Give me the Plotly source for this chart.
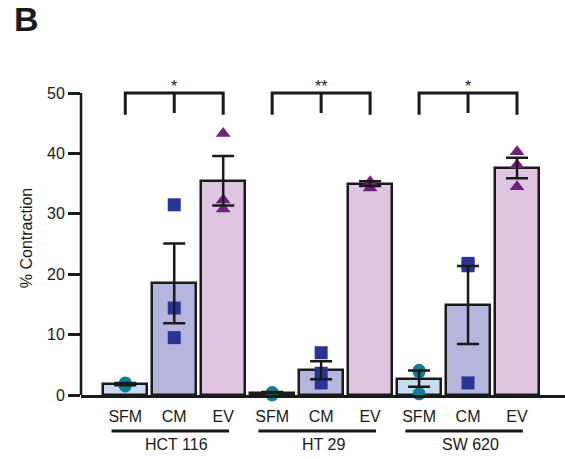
import plotly.graph_objects as go

# ---- data ----
groups = ["HCT 116", "HT 29", "SW 620"]
conditions = ["SFM", "CM", "EV"]

mean_hct116 = [1.8, 18.5, 35.5]
mean_ht29 = [0.4, 4.1, 35.0]
mean_sw620 = [2.7, 14.9, 37.6]

sem_hct116 = [0.2, 6.6, 4.1]
sem_ht29 = [0.1, 1.5, 0.4]
sem_sw620 = [1.35, 6.45, 1.7]

pts_sfm = [[1.5, 1.8, 2.0], [0.0, 0.2, 0.4], [4.1, 3.8, 0.2]]
pts_cm = [[31.5, 14.4, 9.5], [7.0, 3.6, 2.0], [21.4, 21.8, 2.0]]
pts_ev = [[43.3, 32.3, 30.8], [35.3, 35.0, 34.3], [40.3, 38.1, 34.5]]

sig_labels = ["*", "**", "*"]

bar_fill = {"SFM": "#c8dcf1", "CM": "#b4b6dd", "EV": "#dfc5e2"}
pt_color = {"SFM": "#0d8096", "CM": "#2a3593", "EV": "#741f80"}
pt_symbol = {"SFM": "circle", "CM": "square", "EV": "triangle-up"}

FONT = "Liberation Sans, Arial, sans-serif"
INK = "#1a1a1a"

means = [mean_hct116, mean_ht29, mean_sw620]
sems = [sem_hct116, sem_ht29, sem_sw620]

xpos, ymean, yerr, fills, ticktext = [], [], [], [], []
for g in range(len(groups)):
    for c, cond in enumerate(conditions):
        xpos.append(g * 3 + c)
        ymean.append(means[g][c])
        yerr.append(sems[g][c])
        fills.append(bar_fill[cond])
        ticktext.append(cond)

fig = go.Figure()
fig.add_trace(go.Bar(
    x=xpos, y=ymean, width=0.9,
    marker=dict(color=fills, line=dict(color=INK, width=2.5)),
    showlegend=False, hoverinfo="skip",
))

for cond, pts in zip(conditions, [pts_sfm, pts_cm, pts_ev]):
    c = conditions.index(cond)
    xs, ys = [], []
    for g in range(len(groups)):
        for v in pts[g]:
            xs.append(g * 3 + c)
            ys.append(v)
    fig.add_trace(go.Scatter(
        x=xs, y=ys, mode="markers",
        marker=dict(symbol=pt_symbol[cond], color=pt_color[cond], size=13, line=dict(width=0)),
        showlegend=False, cliponaxis=False,
    ))

fig.add_trace(go.Scatter(
    x=xpos, y=ymean, mode="markers",
    marker=dict(size=1, opacity=0),
    error_y=dict(type="data", array=yerr, visible=True, color=INK, thickness=2.5, width=11),
    showlegend=False, hoverinfo="skip",
))

shapes = []
annotations = []
# y axis line (0..50 only)
shapes.append(dict(type="line", xref="paper", yref="y", x0=0, x1=0, y0=0, y1=50,
                   line=dict(color=INK, width=2.5)))
for g in range(len(groups)):
    x0, xm, x1 = g * 3, g * 3 + 1, g * 3 + 2
    shapes.append(dict(type="path", xref="x", yref="y",
                       path=f"M {x0} 46.4 L {x0} 50 L {x1} 50 L {x1} 46.4",
                       line=dict(color=INK, width=3)))
    shapes.append(dict(type="line", xref="x", yref="y", x0=xm, x1=xm, y0=50, y1=46.7,
                       line=dict(color=INK, width=3)))
    annotations.append(dict(x=xm, y=50, xref="x", yref="y", text=sig_labels[g], showarrow=False,
                            yanchor="bottom", yshift=-4, font=dict(family=FONT, size=16, color=INK)))
    # group underline + label
    shapes.append(dict(type="line", xref="x", yref="paper", x0=x0 - 0.28, x1=x1 + 0.12,
                       y0=-0.1146, y1=-0.1146, line=dict(color=INK, width=3)))
    annotations.append(dict(x=xm + 0.05, y=-0.159, xref="x", yref="paper", text=groups[g],
                            showarrow=False, yanchor="middle",
                            font=dict(family=FONT, size=16, color=INK)))

annotations.append(dict(x=-0.1136, y=1.196, xref="paper", yref="paper", text="<b>B</b>",
                        showarrow=False, xanchor="center", yanchor="middle",
                        font=dict(family=FONT, size=34, color=INK)))

fig.update_layout(
    width=565, height=459,
    margin=dict(l=81, r=0, t=81, b=64),
    paper_bgcolor="white", plot_bgcolor="white",
    font=dict(family=FONT, color=INK),
    shapes=shapes, annotations=annotations,
    bargap=0,
)
fig.update_xaxes(
    range=[-0.904, 8.98], tickvals=xpos, ticktext=ticktext,
    showline=True, linecolor=INK, linewidth=2.5, showgrid=False, zeroline=False,
    ticks="", ticklabelstandoff=5,
    tickfont=dict(family=FONT, size=16, color=INK), fixedrange=True,
)
fig.update_yaxes(
    range=[0, 52], tickvals=[0, 10, 20, 30, 40, 50],
    showline=False, showgrid=False, zeroline=False,
    ticks="outside", ticklen=12, tickwidth=2.5, tickcolor=INK,
    tickfont=dict(family=FONT, size=16, color=INK),
    title=dict(text="% Contraction", font=dict(family=FONT, size=16, color=INK), standoff=10),
    fixedrange=True,
)

fig.write_html(
    "out.html",
    config={"displayModeBar": False},
    post_script="document.body.style.margin='0px';document.body.style.padding='0px';",
)
